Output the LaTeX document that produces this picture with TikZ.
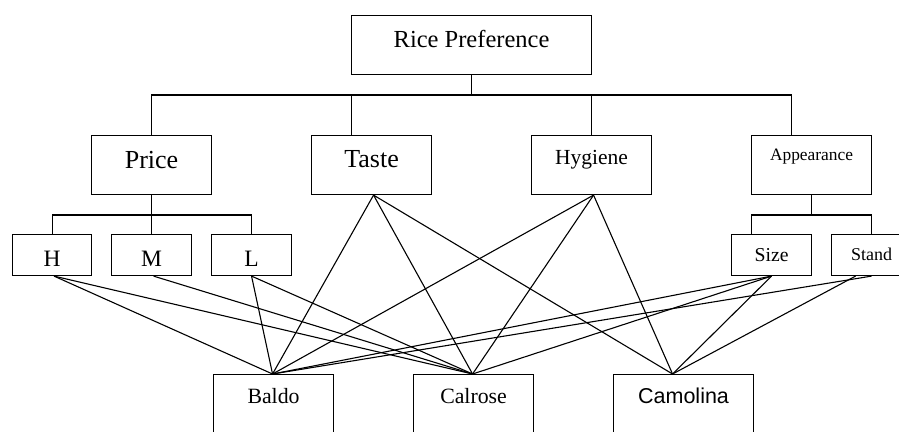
\documentclass[tikz,border=0pt]{standalone}
\usepackage{fontspec}
\setmainfont{Liberation Serif}
\newfontfamily\arialfont{Liberation Sans}
\begin{document}
\begin{tikzpicture}[x=1pt,y=-1pt,
  box/.style={draw, line width=1.1pt, inner sep=0pt, anchor=north west, align=center},
  ln/.style={line width=1.1pt}]
\useasboundingbox (0,0) rectangle (899,431);
% top
\node[box, minimum width=240pt, text height=31.7pt, text depth=27.3pt, font=\fontsize{24.5}{26}\selectfont] (root) at (351,15) {Rice Preference};
% criteria
\node[box, minimum width=120pt, text height=32.7pt, text depth=26.3pt, font=\fontsize{26}{28}\selectfont] (price) at (91,135) {Price};
\node[box, minimum width=120pt, text height=31.7pt, text depth=27.3pt, font=\fontsize{26}{28}\selectfont] (taste) at (311,135) {Taste};
\node[box, minimum width=120pt, text height=29pt, text depth=30pt, font=\fontsize{21.5}{23}\selectfont] (hyg) at (531,135) {Hygiene};
\node[box, minimum width=120pt, text height=25.3pt, text depth=33.7pt, font=\fontsize{17.4}{19}\selectfont] (app) at (751,135) {Appearance};
% sub-criteria
\node[box, minimum width=79pt, text height=32pt, text depth=9pt, font=\fontsize{23.5}{25}\selectfont] (H) at (12,234) {H};
\node[box, minimum width=80pt, text height=32pt, text depth=9pt, font=\fontsize{23.5}{25}\selectfont] (M) at (111,234) {M};
\node[box, minimum width=80pt, text height=32pt, text depth=9pt, font=\fontsize{23.5}{25}\selectfont] (L) at (211,234) {L};
\node[box, minimum width=80pt, text height=27pt, text depth=14pt, font=\fontsize{19.7}{21}\selectfont] (size) at (731,234) {Size};
\node[box, minimum width=80pt, text height=26pt, text depth=15pt, font=\fontsize{18}{20}\selectfont] (stand) at (831,234) {Stand};
% alternatives
\node[box, minimum width=120pt, text height=28.7pt, text depth=40pt, font=\fontsize{21.8}{23}\selectfont] (baldo) at (213,374) {Baldo};
\node[box, minimum width=120pt, text height=28.7pt, text depth=40pt, font=\fontsize{21.8}{23}\selectfont] (calrose) at (413,374) {Calrose};
\node[box, minimum width=140pt, text height=29.3pt, text depth=40pt, font=\arialfont\fontsize{21.5}{23}\selectfont] (camolina) at (613,374) {Camolina};
% tree connectors
\coordinate (bus) at (471,95);
\coordinate (pbus) at (151,215);
\coordinate (abus) at (811,215);
\draw[ln] (root.south) -- (root.south |- bus);
\draw[ln] (price.north) |- (bus) -| ([xshift=-20pt]app.north);
\draw[ln] ([xshift=-20pt]taste.north) -- ([xshift=-20pt]taste.north |- bus);
\draw[ln] (hyg.north) -- (hyg.north |- bus);
\draw[ln] (price.south) -- (price.south |- pbus);
\draw[ln] (H.north) |- (pbus) -| (L.north);
\draw[ln] (M.north) -- (M.north |- pbus);
\draw[ln] (app.south) -- (app.south |- abus);
\draw[ln] ([xshift=-20pt]size.north) |- (abus) -| (stand.north);
% alternative connectors
\coordinate (ba) at ([xshift=-1pt]baldo.north);
\coordinate (ca) at ([xshift=-1pt]calrose.north);
\coordinate (cm) at ([xshift=-11pt]camolina.north);
\draw[ln] ([xshift=2pt]H.south) -- (ba);
\draw[ln] ([xshift=2pt]H.south) -- (ca);
\draw[ln] ([xshift=2pt]M.south) -- (ca);
\draw[ln] (L.south) -- (ba);
\draw[ln] (L.south) -- (ca);
\draw[ln] ([xshift=2pt]taste.south) -- (ba);
\draw[ln] ([xshift=2pt]taste.south) -- (ca);
\draw[ln] ([xshift=2pt]taste.south) -- (cm);
\draw[ln] ([xshift=2pt]hyg.south) -- (ba);
\draw[ln] ([xshift=2pt]hyg.south) -- (ca);
\draw[ln] ([xshift=2pt]hyg.south) -- (cm);
\draw[ln] (size.south) -- (ba);
\draw[ln] (size.south) -- (ca);
\draw[ln] (size.south) -- (cm);
\draw[ln] (stand.south) -- (ba);
\draw[ln] ([xshift=-16pt]stand.south) -- (cm);
\end{tikzpicture}
\end{document}
